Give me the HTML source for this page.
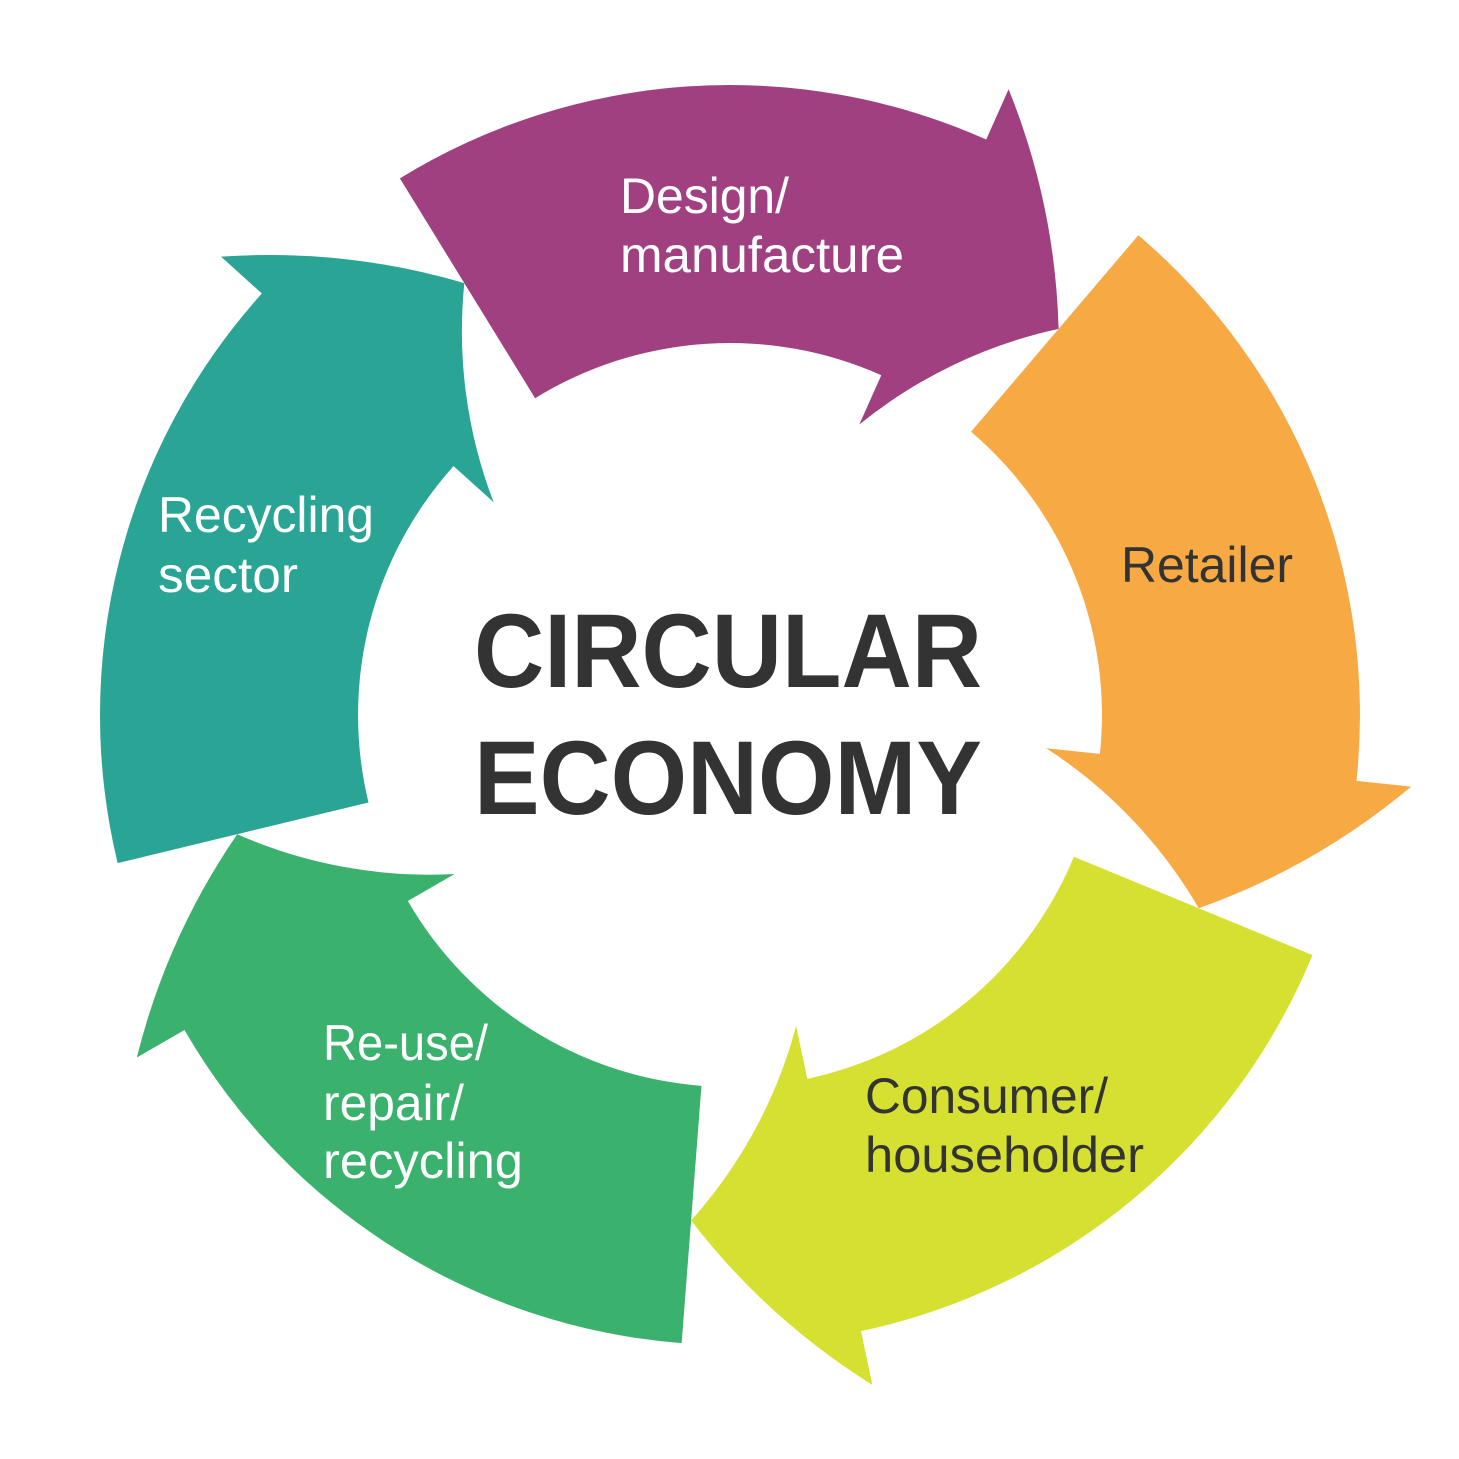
<!DOCTYPE html>
<html>
<head>
<meta charset="utf-8">
<style>
  html, body { margin: 0; padding: 0; background: #ffffff; }
  svg { display: block; }
  .lbl { font-family: "Liberation Sans", Arial, sans-serif; font-size: 50px; }
  .w { fill: #ffffff; }
  .d { fill: #333333; }
  .big { font-family: "Liberation Sans", Arial, sans-serif; font-size: 105px; font-weight: bold; fill: #333333; }
</style>
</head>
<body>
<svg width="1459" height="1459" viewBox="0 0 1459 1459" xmlns="http://www.w3.org/2000/svg">
  <rect x="0" y="0" width="1459" height="1459" fill="#ffffff"/>
  <defs>
    <path id="arr" d="M 399.9 178.4 A 630 630 0 0 1 986.2 139.5 L 1008.6 89.3 A 690 690 0 0 1 1058.6 328.9 A 476 476 0 0 0 859.3 424.5 L 881.3 375.2 A 372 372 0 0 0 535.1 398.2 Z"/>
  </defs>
  <!-- Purple: Design/manufacture -->
  <path d="M 399.9 178.4 A 630 630 0 0 1 986.2 139.5 L 1008.6 89.3 A 690 690 0 0 1 1058.6 328.9 A 476 476 0 0 0 859.3 424.5 L 881.3 375.2 A 372 372 0 0 0 535.1 398.2 Z" fill="#A04081"/>
  <!-- Orange: Retailer -->
  <path transform="rotate(72 730 715)" d="M 399.9 178.4 A 630 630 0 0 1 986.2 139.5 L 1008.6 89.3 A 690 690 0 0 1 1058.6 328.9 A 476 476 0 0 0 859.3 424.5 L 881.3 375.2 A 372 372 0 0 0 535.1 398.2 Z" fill="#F7A944"/>
  <!-- Lime: Consumer -->
  <path transform="rotate(144 730 715)" d="M 399.9 178.4 A 630 630 0 0 1 986.2 139.5 L 1008.6 89.3 A 690 690 0 0 1 1058.6 328.9 A 476 476 0 0 0 859.3 424.5 L 881.3 375.2 A 372 372 0 0 0 535.1 398.2 Z" fill="#D5E030"/>
  <!-- Green: Re-use -->
  <path transform="rotate(216 730 715)" d="M 399.9 178.4 A 630 630 0 0 1 986.2 139.5 L 1008.6 89.3 A 690 690 0 0 1 1058.6 328.9 A 476 476 0 0 0 859.3 424.5 L 881.3 375.2 A 372 372 0 0 0 535.1 398.2 Z" fill="#3AB16D"/>
  <!-- Teal: Recycling sector -->
  <path transform="rotate(288 730 715)" d="M 399.9 178.4 A 630 630 0 0 1 986.2 139.5 L 1008.6 89.3 A 690 690 0 0 1 1058.6 328.9 A 476 476 0 0 0 859.3 424.5 L 881.3 375.2 A 372 372 0 0 0 535.1 398.2 Z" fill="#2AA595"/>

  <!-- Labels -->
  <text class="lbl w" x="620" y="213" textLength="169" lengthAdjust="spacingAndGlyphs">Design/</text>
  <text class="lbl w" x="620" y="272" textLength="284" lengthAdjust="spacingAndGlyphs">manufacture</text>

  <text class="lbl d" x="1121" y="582" textLength="172" lengthAdjust="spacingAndGlyphs">Retailer</text>

  <text class="lbl d" x="865" y="1113" textLength="243" lengthAdjust="spacingAndGlyphs">Consumer/</text>
  <text class="lbl d" x="865" y="1172" textLength="279" lengthAdjust="spacingAndGlyphs">householder</text>

  <text class="lbl w" x="323" y="1060" textLength="165" lengthAdjust="spacingAndGlyphs">Re-use/</text>
  <text class="lbl w" x="323" y="1120" textLength="141" lengthAdjust="spacingAndGlyphs">repair/</text>
  <text class="lbl w" x="323" y="1178" textLength="200" lengthAdjust="spacingAndGlyphs">recycling</text>

  <text class="lbl w" x="158" y="532" textLength="216" lengthAdjust="spacingAndGlyphs">Recycling</text>
  <text class="lbl w" x="158" y="592" textLength="140" lengthAdjust="spacingAndGlyphs">sector</text>

  <!-- Center title -->
  <text class="big" x="474" y="687" textLength="508" lengthAdjust="spacingAndGlyphs">CIRCULAR</text>
  <text class="big" x="474" y="814" textLength="508" lengthAdjust="spacingAndGlyphs">ECONOMY</text>
</svg>
</body>
</html>
